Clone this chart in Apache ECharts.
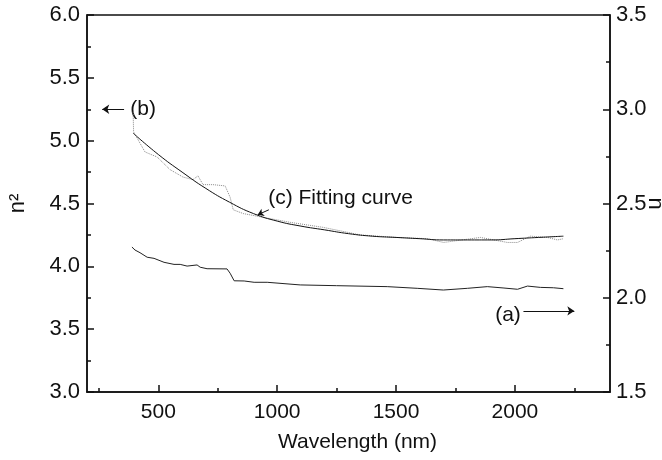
<!DOCTYPE html>
<html>
<head>
<meta charset="utf-8">
<script src="https://cdn.jsdelivr.net/npm/echarts@6/dist/echarts.min.js"></script>
<style>
  html, body { margin: 0; padding: 0; background: #fff; }
  #chart { width: 662px; height: 460px; }
</style>
</head>
<body>
<div id="chart"></div>
<script>
// (a) refractive index n, right axis
var waveA = [389, 402, 423, 453, 482, 524, 566, 592, 621, 663, 676, 705, 789, 802, 819, 861, 903, 958, 1097, 1250, 1463, 1589, 1699, 1800, 1884, 1950, 2011, 2053, 2107, 2162, 2204];
var nA    = [2.269, 2.253, 2.239, 2.215, 2.209, 2.188, 2.177, 2.177, 2.168, 2.174, 2.162, 2.154, 2.153, 2.130, 2.090, 2.089, 2.082, 2.082, 2.068, 2.064, 2.059, 2.050, 2.041, 2.050, 2.059, 2.052, 2.045, 2.062, 2.055, 2.053, 2.048];

// (b) measured n^2, left axis (dotted)
var waveB = [394, 396, 444, 495, 549, 604, 646, 667, 688, 730, 781, 802, 815, 857, 941, 1055, 1194, 1349, 1500, 1632, 1700, 1855, 1968, 2011, 2065, 2137, 2179, 2204];
var n2B   = [5.23, 5.07, 4.91, 4.87, 4.77, 4.71, 4.69, 4.72, 4.65, 4.65, 4.64, 4.55, 4.45, 4.42, 4.39, 4.35, 4.31, 4.25, 4.23, 4.22, 4.19, 4.23, 4.19, 4.19, 4.24, 4.23, 4.21, 4.22];

// (c) fitting curve, left axis
var waveC = [394, 500, 600, 700, 800, 900, 1000, 1100, 1200, 1300, 1400, 1500, 1600, 1700, 1800, 1900, 2000, 2100, 2204];
var n2C   = [5.06, 4.89, 4.75, 4.62, 4.51, 4.42, 4.36, 4.32, 4.29, 4.26, 4.24, 4.23, 4.22, 4.21, 4.21, 4.21, 4.22, 4.23, 4.24];

var xMajor = [500, 1000, 1500, 2000];
var xMinor = [250, 750, 1250, 1750, 2250];

function pairs(xs, ys) {
  return xs.map(function (x, i) { return [x, ys[i]]; });
}

var FONT = 'Liberation Sans, Arial, sans-serif';
var INK = '#111';
var chart = echarts.init(document.getElementById('chart'));

function arrow(from, to, size) {
  return {
    silent: true, symbol: ['none', 'arrow'], symbolSize: size,
    label: { show: false },
    lineStyle: { color: INK, width: 1, type: 'solid' },
    data: [[{ coord: from }, { coord: to }]]
  };
}

var option = {
  animation: false,
  backgroundColor: '#fff',
  grid: { left: 87, right: 52, top: 15, bottom: 68, containLabel: false, outerBoundsMode: 'none',
          show: true, borderColor: INK, borderWidth: 1.5 },
  xAxis: [
    {
      type: 'value', min: 200, max: 2400, position: 'bottom',
      name: 'Wavelength (nm)', nameLocation: 'middle', nameGap: 40, nameMoveOverlap: false,
      nameTextStyle: { fontFamily: FONT, fontSize: 21, color: INK, padding: [0, 0, 0, 18] },
      axisLine: { lineStyle: { color: INK, width: 1.5 } },
      axisTick: { inside: true, length: 7, customValues: xMajor, lineStyle: { color: INK, width: 1.5 } },
      axisLabel: { customValues: xMajor, fontFamily: FONT, fontSize: 21, color: INK, margin: 10,
                   formatter: function (v) { return String(v); } },
      splitLine: { show: false }
    },
    {
      type: 'value', min: 200, max: 2400, position: 'bottom',
      axisLine: { show: false },
      axisTick: { inside: true, length: 4, customValues: xMinor, lineStyle: { color: INK, width: 1.5 } },
      axisLabel: { show: false },
      splitLine: { show: false }
    }
  ],
  yAxis: [
    {
      type: 'value', min: 3, max: 6, interval: 0.5, position: 'left',
      name: 'n²', nameLocation: 'middle', nameGap: 58, nameRotate: 90, nameMoveOverlap: false,
      nameTextStyle: { fontFamily: FONT, fontSize: 22, color: INK },
      axisLine: { show: true, lineStyle: { color: INK, width: 1.5 } },
      axisTick: { inside: true, length: 7, lineStyle: { color: INK, width: 1.5 } },
      minorTick: { show: true, splitNumber: 2, length: 4, lineStyle: { color: INK, width: 1.5 } },
      axisLabel: { fontFamily: FONT, fontSize: 22, color: INK, margin: 7, formatter: function (v) { return v.toFixed(1); } },
      splitLine: { show: false }
    },
    {
      type: 'value', min: 1.5, max: 3.5, interval: 0.5, position: 'right',
      name: 'n', nameLocation: 'middle', nameGap: 34, nameRotate: -90, nameMoveOverlap: false,
      nameTextStyle: { fontFamily: FONT, fontSize: 22, color: INK },
      axisLine: { show: true, lineStyle: { color: INK, width: 1.5 } },
      axisTick: { inside: true, length: 7, lineStyle: { color: INK, width: 1.5 } },
      minorTick: { show: true, splitNumber: 2, length: 4, lineStyle: { color: INK, width: 1.5 } },
      axisLabel: { fontFamily: FONT, fontSize: 22, color: INK, margin: 6, formatter: function (v) { return v.toFixed(1); } },
      splitLine: { show: false }
    }
  ],
  series: [
    {
      name: '(a)', type: 'line', xAxisIndex: 0, yAxisIndex: 1, showSymbol: false,
      data: pairs(waveA, nA),
      lineStyle: { color: '#222', width: 1 },
      markLine: arrow([2036, 1.93], [2250, 1.93], 7)
    },
    {
      name: '(b)', type: 'line', xAxisIndex: 0, yAxisIndex: 0, showSymbol: false,
      data: pairs(waveB, n2B),
      lineStyle: { color: '#8a8a8a', width: 1, type: 'dotted' },
      markLine: arrow([356, 5.25], [264, 5.25], 7)
    },
    {
      name: '(c)', type: 'line', xAxisIndex: 0, yAxisIndex: 0, showSymbol: false, smooth: true,
      data: pairs(waveC, n2C),
      lineStyle: { color: INK, width: 1 },
      markLine: arrow([965, 4.45], [918, 4.41], 6)
    }
  ]
};
chart.setOption(option);

// text annotations placed through the axes
var pB = chart.convertToPixel({ xAxisIndex: 0, yAxisIndex: 0 }, [382, 5.25]);
var pC = chart.convertToPixel({ xAxisIndex: 0, yAxisIndex: 0 }, [962, 4.54]);
var pA = chart.convertToPixel({ xAxisIndex: 0, yAxisIndex: 1 }, [2025, 1.908]);
var txt = function (p, s, align) {
  return {
    type: 'text', x: p[0], y: p[1],
    style: { text: s, fontFamily: FONT, fontSize: 21, fill: INK, align: align, verticalAlign: 'middle' }
  };
};
chart.setOption({
  graphic: [
    txt(pB, '(b)', 'left'),
    txt(pC, '(c) Fitting curve', 'left'),
    txt(pA, '(a)', 'right')
  ]
});
</script>
</body>
</html>
